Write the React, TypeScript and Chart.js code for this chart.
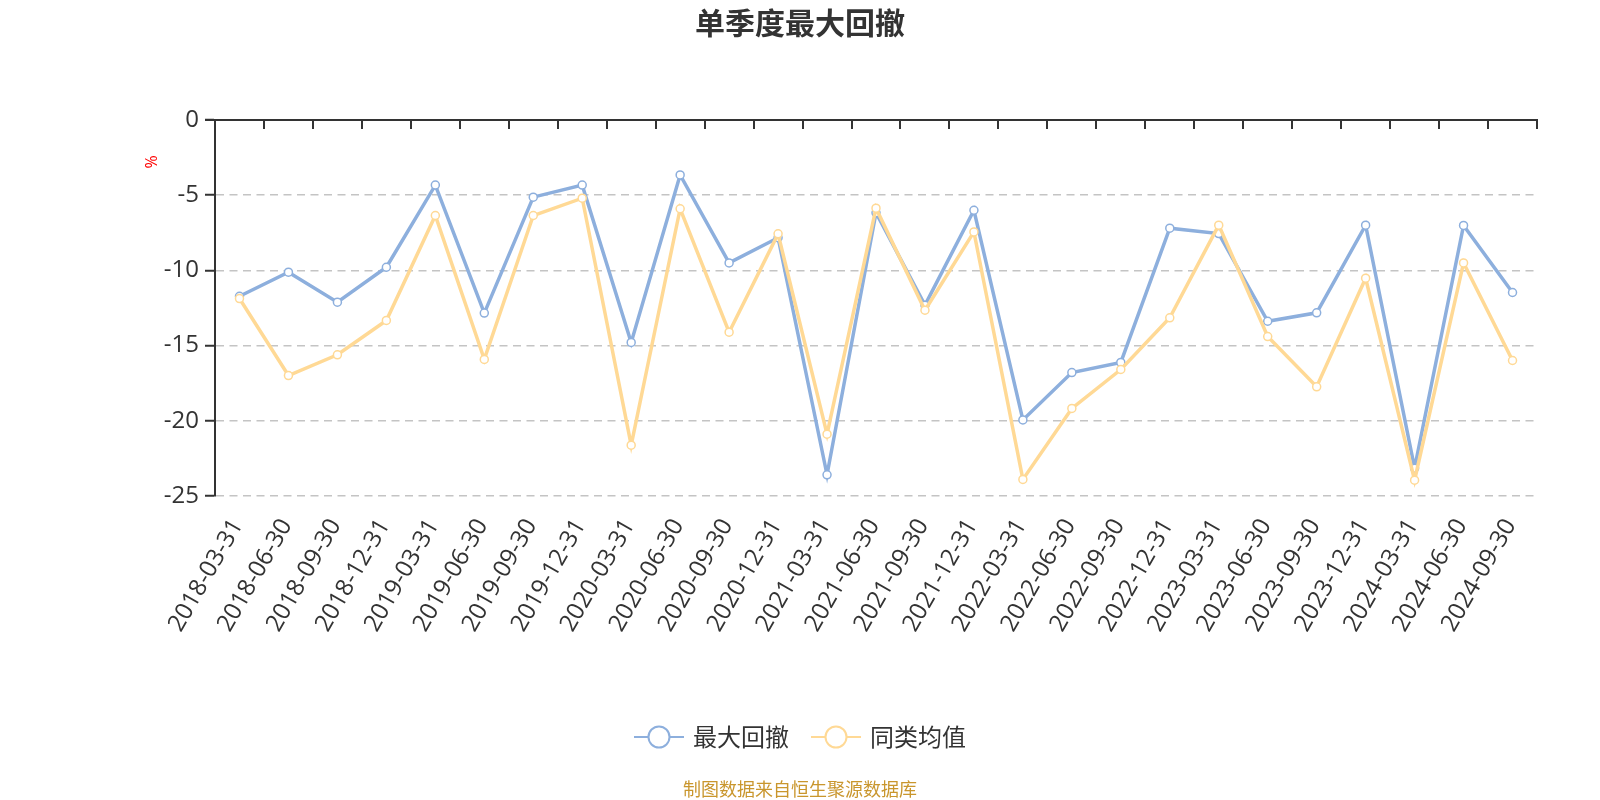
import React, { useEffect, useRef } from "react";
import { Chart, registerables } from "chart.js";

Chart.register(...registerables);

const categories = [
  "2018-03-31", "2018-06-30", "2018-09-30", "2018-12-31",
  "2019-03-31", "2019-06-30", "2019-09-30", "2019-12-31",
  "2020-03-31", "2020-06-30", "2020-09-30", "2020-12-31",
  "2021-03-31", "2021-06-30", "2021-09-30", "2021-12-31",
  "2022-03-31", "2022-06-30", "2022-09-30", "2022-12-31",
  "2023-03-31", "2023-06-30", "2023-09-30", "2023-12-31",
  "2024-03-31", "2024-06-30", "2024-09-30",
];

const maxDrawdown = [
  -11.72, -10.12, -12.11, -9.79, -4.33, -12.84, -5.13, -4.33,
  -14.79, -3.65, -9.5, -7.83, -23.59, -6.17, -12.31, -6.0,
  -19.94, -16.79, -16.12, -7.19, -7.55, -13.38, -12.82, -6.99,
  -23.15, -7.01, -11.47,
];

const peerAverage = [
  -11.87, -16.99, -15.61, -13.33, -6.35, -15.92, -6.35, -5.2,
  -21.62, -5.9, -14.11, -7.57, -20.89, -5.86, -12.65, -7.44,
  -23.9, -19.18, -16.59, -13.15, -6.99, -14.4, -17.74, -10.52,
  -23.95, -9.5, -15.99,
];

const seriesNames = ["最大回撤", "同类均值"];
const seriesColors = ["#8DAFDD", "#FFD995"];
const titleText = "单季度最大回撤";
const footerText = "制图数据来自恒生聚源数据库";
const unitText = "%";
const yMin = -25;
const yMax = 0;
const yStep = 5;

const FONT = "'Open Sans', 'Noto Sans CJK SC', sans-serif";
const CJK = "'Noto Sans CJK SC', 'Open Sans', sans-serif";

const decorPlugin = {
  id: "decor",
  afterDraw(chart: any) {
    const { ctx, chartArea } = chart;
    const xs = chart.scales.x;
    ctx.save();
    // top axis line with inward ticks at category boundaries
    ctx.strokeStyle = "#333";
    ctx.lineWidth = 2;
    ctx.setLineDash([]);
    ctx.beginPath();
    ctx.moveTo(chartArea.left - 10, chartArea.top);
    ctx.lineTo(chartArea.right + 1, chartArea.top);
    const n = categories.length;
    const half = (xs.getPixelForValue(1) - xs.getPixelForValue(0)) / 2;
    for (let i = 0; i <= n; i++) {
      const px = Math.round(
        i < n ? xs.getPixelForValue(i) - half : xs.getPixelForValue(n - 1) + half
      );
      ctx.moveTo(px, chartArea.top);
      ctx.lineTo(px, chartArea.top + 9);
    }
    ctx.stroke();

    // title
    ctx.fillStyle = "#333";
    ctx.font = `bold 30px ${CJK}`;
    ctx.textAlign = "center";
    ctx.textBaseline = "middle";
    ctx.fillText(titleText, chart.width / 2, 23);

    // unit label
    ctx.save();
    ctx.translate(152, 162);
    ctx.rotate(-Math.PI / 2);
    ctx.fillStyle = "#ff0000";
    ctx.font = `16px ${FONT}`;
    ctx.fillText(unitText, 0, 0);
    ctx.restore();

    // legend
    ctx.font = `24px ${CJK}`;
    const iconW = 50;
    const gap = 9;
    const itemGap = 22;
    const widths = seriesNames.map((s) => ctx.measureText(s).width);
    const total =
      widths.reduce((a, b) => a + b, 0) + seriesNames.length * (iconW + gap) + itemGap * (seriesNames.length - 1);
    let x = chart.width / 2 - total / 2;
    const ly = 737;
    seriesNames.forEach((name, i) => {
      ctx.strokeStyle = seriesColors[i];
      ctx.lineWidth = 2;
      ctx.beginPath();
      ctx.moveTo(x, ly);
      ctx.lineTo(x + iconW, ly);
      ctx.stroke();
      ctx.beginPath();
      ctx.arc(x + iconW / 2, ly, 10.5, 0, Math.PI * 2);
      ctx.fillStyle = "#fff";
      ctx.fill();
      ctx.lineWidth = 2;
      ctx.stroke();
      ctx.fillStyle = "#333";
      ctx.textAlign = "left";
      ctx.textBaseline = "middle";
      ctx.fillText(name, x + iconW + gap, ly);
      x += iconW + gap + widths[i] + itemGap;
    });

    // footer
    ctx.fillStyle = "#C9962D";
    ctx.font = `18px ${CJK}`;
    ctx.textAlign = "center";
    ctx.fillText(footerText, chart.width / 2, 789);
    ctx.restore();
  },
};

export default function App() {
  const ref = useRef<HTMLCanvasElement | null>(null);
  useEffect(() => {
    if (!ref.current) return;
    const chart = new Chart(ref.current, {
      type: "line",
      data: {
        labels: categories,
        datasets: [
          {
            label: seriesNames[0],
            data: maxDrawdown,
            borderColor: seriesColors[0],
            backgroundColor: "#fff",
            pointBackgroundColor: "#fff",
            pointBorderColor: seriesColors[0],
            pointRadius: 4,
            pointBorderWidth: 1.5,
            borderWidth: 3.5,
            tension: 0,
            order: 2,
          },
          {
            label: seriesNames[1],
            data: peerAverage,
            borderColor: seriesColors[1],
            backgroundColor: "#fff",
            pointBackgroundColor: "#fff",
            pointBorderColor: seriesColors[1],
            pointRadius: 4,
            pointBorderWidth: 1.5,
            borderWidth: 3.5,
            tension: 0,
            order: 1,
          },
        ],
      },
      options: {
        responsive: false,
        animation: false,
        devicePixelRatio: 1,
        layout: { padding: { top: 120, right: 63, left: 0, bottom: 0 } },
        plugins: {
          legend: { display: false },
          title: { display: false },
          tooltip: { enabled: false },
        },
        scales: {
          x: {
            type: "category",
            offset: true,
            grid: { display: false },
            border: { display: false },
            ticks: {
              autoSkip: false,
              minRotation: 60,
              maxRotation: 60,
              color: "#333",
              padding: 10,
              labelOffset: -2,
              font: { size: 24, family: FONT },
            },
            afterFit: (s: any) => {
              s.height = 304;
            },
          },
          y: {
            min: yMin,
            max: yMax,
            ticks: {
              stepSize: yStep,
              color: "#333",
              padding: 6,
              font: { size: 24, family: FONT },
            },
            grid: {
              color: "#c4c4c4",
              lineWidth: 1.5,
              drawTicks: true,
              tickLength: 10,
              tickColor: "#333",
              tickWidth: 2,
              tickBorderDash: [],
            },
            border: { display: true, color: "#333", width: 2, dash: [8, 5.5] },
            afterFit: (s: any) => {
              s.width = 215;
            },
          },
        },
      },
      plugins: [decorPlugin],
    });
    return () => chart.destroy();
  }, []);
  return (
    <div style={{ position: "fixed", left: 0, top: 0, width: 1600, height: 800, background: "#fff" }}>
      <canvas ref={ref} width={1600} height={800} style={{ width: 1600, height: 800 }} />
    </div>
  );
}
